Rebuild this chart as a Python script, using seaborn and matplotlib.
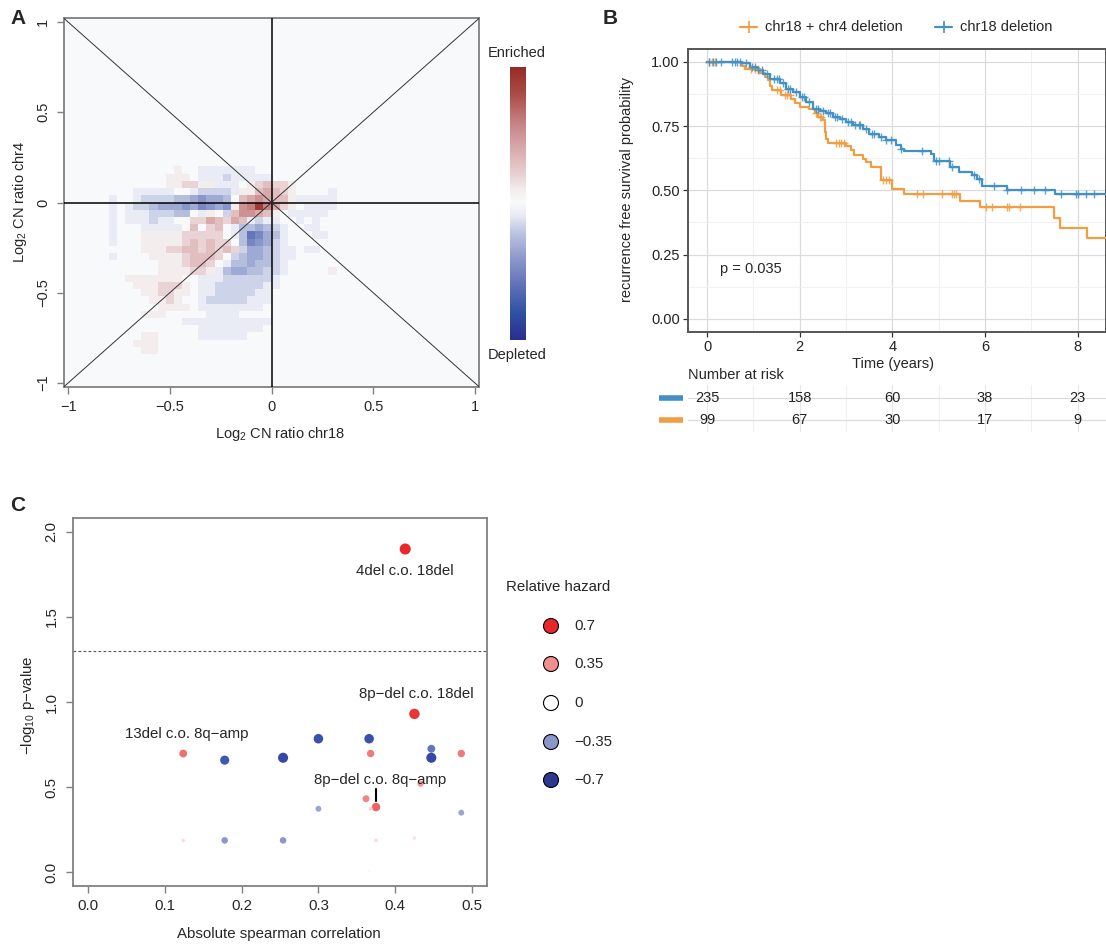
import numpy as np
import matplotlib
matplotlib.use('Agg')
import matplotlib.pyplot as plt
from matplotlib.colors import LinearSegmentedColormap, TwoSlopeNorm
import seaborn as sns

sns.set_style('white')
plt.rcParams['font.family'] = ['Liberation Sans', 'DejaVu Sans']
plt.rcParams['mathtext.fontset'] = 'custom'
plt.rcParams['mathtext.rm'] = 'Liberation Sans'
plt.rcParams['mathtext.it'] = 'Liberation Sans'

#%% data
# A: enrichment of chr18 / chr4 log2 CN ratios, 0.04 bins, levels in tenths of max
cn_chr18_edges = np.round(-0.88 + 0.04 * np.arange(33), 2)
cn_chr4_edges = np.round(0.20 - 0.04 * np.arange(27), 2)
enrichment = [
    [0,0,0,0,0,0,0,0,0,0,1,0,0,-1,-1,-1,-1,-1,-1,-1,0,0,0,0,0,0,0,0,0,0,0,0],
    [0,0,0,0,0,0,0,0,0,1,1,1,0,-1,-1,-1,-2,-1,-1,-1,-1,-1,0,0,0,0,0,0,0,0,0,0],
    [0,0,0,0,0,0,0,0,0,1,1,2,2,1,1,-1,-1,-1,0,1,2,3,2,2,1,0,0,0,0,0,0,0],
    [0,0,0,0,0,-1,-1,-1,-1,-1,0,0,-1,-2,-2,-2,-2,-1,1,1,3,4,3,2,1,0,0,0,0,-1,0,0],
    [0,0,-1,0,0,-1,-2,-2,-2,-2,-3,-3,-4,-5,-4,-4,-3,0,3,4,5,4,3,3,1,-1,-1,-1,-1,-1,0,0],
    [0,0,-1,0,-1,-2,-2,-3,-4,-4,-4,-5,-4,-6,-5,-4,-5,1,5,6,9,6,4,2,1,0,-1,-1,-1,-1,0,0],
    [0,0,-1,0,-1,-1,-1,-2,-2,-2,-3,-3,0,-1,1,0,-2,3,5,5,4,3,1,0,-1,-1,-1,-1,-1,0,0,0],
    [0,0,-1,0,-1,-1,-1,-2,-1,-1,0,0,2,2,4,3,2,4,3,-1,-2,-1,-1,0,0,-1,0,-1,0,0,0,0],
    [0,0,-1,0,0,0,-1,-1,-1,-1,-1,0,3,0,2,3,0,-1,-3,-3,-4,-3,-2,-1,0,0,-1,-1,0,0,0,0],
    [0,0,-1,0,0,0,1,1,1,1,1,2,2,2,2,2,0,-1,-3,-7,-6,-4,-3,-1,0,0,0,-1,-1,0,0,0],
    [0,0,-1,0,0,0,1,1,1,1,1,2,3,2,3,2,2,0,-3,-6,-5,-4,-2,-1,0,0,0,0,0,0,0,0],
    [0,0,0,0,0,0,1,1,1,2,2,3,3,2,3,2,3,2,-2,-4,-4,-3,-2,-1,-1,0,-1,-1,0,0,0,0],
    [0,0,-1,0,0,0,0,1,1,1,1,2,3,3,3,2,0,-2,-3,-4,-4,-3,-2,-1,-1,0,0,0,0,0,0,0],
    [0,0,0,0,0,0,0,0,1,1,1,2,3,3,2,0,-1,-3,-3,-4,-3,-3,-2,-1,0,0,0,0,0,0,0,0],
    [0,0,0,0,0,0,0,0,1,1,1,1,2,2,1,-1,-3,-4,-4,-3,-3,-2,-2,-1,0,0,0,0,0,1,0,0],
    [0,0,0,0,1,1,1,1,1,1,1,0,0,-1,-1,-1,-2,-2,-2,-2,-2,-2,-1,0,0,0,0,0,0,0,0,0],
    [0,0,0,0,0,1,1,1,2,2,2,1,0,-1,-1,-2,-2,-2,-2,-2,-2,-1,-1,0,0,0,0,0,0,0,0,0],
    [0,0,0,0,0,0,1,1,2,2,1,1,0,-1,-1,-2,-2,-2,-2,-2,-1,-1,0,0,0,0,0,0,0,0,0,0],
    [0,0,0,0,0,0,0,1,1,2,1,0,0,-1,-2,-2,-2,-2,-2,-1,-1,-1,0,0,0,0,0,0,0,0,0,0],
    [0,0,0,0,0,0,0,0,1,1,1,1,0,-1,-1,-1,-1,-1,-1,-1,-1,0,0,0,0,0,0,0,0,0,0,0],
    [0,0,0,0,0,0,1,1,1,0,0,0,0,0,-1,-1,-1,-1,0,0,0,0,0,0,0,0,0,0,0,0,0,0],
    [0,0,0,0,0,0,0,0,0,0,0,-1,-1,-1,-1,-1,-1,-1,-1,-1,-1,-1,0,0,0,0,0,0,0,0,0,0],
    [0,0,0,0,0,0,0,0,0,0,0,0,0,-1,-1,-1,-1,-1,-1,-1,-1,0,0,0,0,0,0,0,0,0,0,0],
    [0,0,0,0,0,0,1,1,0,0,0,0,0,-1,-1,-1,-1,-1,-1,0,0,0,0,0,0,0,0,0,0,0,0,0],
    [0,0,0,0,0,1,1,1,0,0,0,0,0,0,0,0,0,0,0,0,0,0,0,0,0,0,0,0,0,0,0,0],
    [0,0,0,0,0,0,1,1,0,0,0,0,0,0,0,0,0,0,0,0,0,0,0,0,0,0,0,0,0,0,0,0],
]

# B: Kaplan-Meier steps (time in years, survival after step), censor times, risk table
del18_t = [0, 0.75, 0.93, 1.07, 1.21, 1.36, 1.57, 1.71, 1.86, 2.0, 2.14, 2.29, 2.43, 2.57,
           2.71, 2.86, 3.0, 3.14, 3.36, 3.5, 3.71, 3.86, 4.07, 4.18, 4.25, 4.83, 4.9, 5.25,
           5.43, 5.72, 5.83, 5.94, 6.48, 7.52, 8.7]
del18_s = [1.0, 0.994, 0.98, 0.97, 0.952, 0.935, 0.916, 0.896, 0.883, 0.864, 0.844, 0.818,
           0.81, 0.80, 0.786, 0.779, 0.766, 0.753, 0.74, 0.721, 0.708, 0.695, 0.675, 0.66,
           0.653, 0.64, 0.616, 0.59, 0.573, 0.56, 0.543, 0.518, 0.501, 0.484, 0.484]
del18_cens = [0.05, 0.12, 0.2, 0.3, 0.55, 0.6, 0.65, 0.72, 0.85, 0.97, 1.03, 1.1, 1.18, 1.3,
              1.45, 1.5, 1.55, 1.65, 1.75, 1.8, 1.93, 2.05, 2.1, 2.2, 2.35, 2.4, 2.5, 2.62,
              2.66, 2.76, 2.8, 2.92, 3.05, 3.1, 3.2, 3.27, 3.3, 3.43, 3.55, 3.6, 3.75, 3.86,
              3.96, 4.18, 4.65, 4.94, 5.01, 5.22, 5.29, 5.76, 5.87, 6.19, 6.48, 6.77, 7.06,
              7.29, 7.63, 7.96, 8.01, 8.17, 8.35]
del18_4_t = [0, 0.75, 0.82, 1.14, 1.25, 1.32, 1.37, 1.41, 1.6, 1.82, 1.89, 2.0, 2.21, 2.32,
             2.39, 2.5, 2.54, 2.57, 2.61, 3.0, 3.1, 3.18, 3.36, 3.43, 3.54, 3.75, 4.0, 4.25,
             5.47, 5.9, 7.49, 7.61, 8.21, 8.7]
del18_4_s = [1.0, 0.984, 0.972, 0.955, 0.942, 0.929, 0.905, 0.89, 0.87, 0.855, 0.84, 0.825,
             0.815, 0.80, 0.786, 0.773, 0.727, 0.70, 0.685, 0.671, 0.656, 0.636, 0.623, 0.61,
             0.591, 0.54, 0.505, 0.487, 0.46, 0.434, 0.394, 0.355, 0.316, 0.316]
del18_4_cens = [0.04, 0.1, 0.18, 0.96, 1.04, 1.1, 1.5, 1.57, 1.68, 1.73, 1.79, 2.36, 2.43,
                2.46, 2.79, 2.84, 2.9, 2.96, 3.79, 3.86, 3.93, 4.54, 4.66, 5.08, 5.28, 5.33,
                5.38, 6.03, 6.16, 6.48, 6.52, 6.75]
risk_times = [0, 2, 4, 6, 8]
risk_del18 = [235, 158, 60, 38, 23]
risk_del18_4 = [99, 67, 30, 17, 9]

# C: co-occurrence screen
abs_corr = [0.413, 0.425, 0.124, 0.178, 0.254, 0.300, 0.366, 0.368, 0.447, 0.447, 0.486, 0.433,
            0.362, 0.375, 0.368, 0.300, 0.486, 0.124, 0.178, 0.254, 0.375, 0.425, 0.366]
neg_log_p = [1.90, 0.93, 0.697, 0.658, 0.672, 0.784, 0.784, 0.697, 0.725, 0.672, 0.697, 0.519,
             0.431, 0.382, 0.372, 0.372, 0.349, 0.186, 0.186, 0.186, 0.186, 0.200, 0.006]
rel_hazard = [0.70, 0.65, 0.45, -0.55, -0.62, -0.58, -0.58, 0.42, -0.45, -0.62, 0.42, 0.32,
              0.38, 0.50, 0.15, -0.30, -0.30, 0.12, -0.35, -0.35, 0.12, 0.10, 0.03]
pair_labels = ['4del c.o. 18del', '8p−del c.o. 18del', '13del c.o. 8q−amp', '8p−del c.o. 8q−amp']
label_xy = [(0.413, 1.77), (0.428, 1.05), (0.128, 0.81), (0.38, 0.543)]
hazard_legend = [0.7, 0.35, 0, -0.35, -0.7]

#%% figure
W, H = 1106, 946
fig = plt.figure(figsize=(W / 100, H / 100), dpi=100)

def frac(l, t, r, b):
    return [l / W, 1 - b / H, (r - l) / W, (b - t) / H]

cmap_a = LinearSegmentedColormap.from_list('enr', [
    (0.0, '#2B2D8F'), (0.1, '#2F53A3'), (0.2, '#6172B8'), (0.3, '#8E9ACC'), (0.4, '#C2C9E4'),
    (0.45, '#E6E9F3'), (0.5, '#F8FAFA'), (0.55, '#F4EDEE'), (0.6, '#EAD3D5'), (0.7, '#D8AAAC'),
    (0.8, '#C47F7F'), (0.9, '#AB4C47'), (1.0, '#962A25')])
grey = '#808080'
fs = 10.5
fs_c = 10.8

# ---- A
ax_a = fig.add_axes(frac(64, 18.4, 479, 386.6))
ax_a.set_facecolor(cmap_a(0.5))
ax_a.pcolormesh(cn_chr18_edges, cn_chr4_edges, np.array(enrichment), cmap=cmap_a,
                norm=TwoSlopeNorm(vcenter=0, vmin=-12, vmax=10), zorder=1)
ax_a.axhline(0, color='black', lw=1.1, zorder=3)
ax_a.axvline(0, color='black', lw=1.1, zorder=3)
ax_a.axline((0, 0), (1, 1), color='#333333', lw=0.7, zorder=3)
ax_a.axline((0, 0), (1, -1), color='#333333', lw=0.7, zorder=3)
ax_a.set_xlim(-1.02, 1.02)
ax_a.set_ylim(-1.02, 1.02)
ticks = [-1, -0.5, 0, 0.5, 1]
tlabs = ['−1', '−0.5', '0', '0.5', '1']
ax_a.set_xticks(ticks)
ax_a.set_xticklabels(tlabs)
ax_a.set_yticks(ticks)
ax_a.set_yticklabels(tlabs, rotation=90, va='center')
ax_a.tick_params(direction='out', length=5, width=1, color=grey, labelsize=fs, pad=5,
                 bottom=True, left=True)
for sp in ax_a.spines.values():
    sp.set_color(grey)
    sp.set_linewidth(1.3)

ax_cb = fig.add_axes(frac(510, 67, 526, 340))
ax_cb.imshow(np.linspace(1, 0, 256)[:, None], aspect='auto', cmap=cmap_a, vmin=0, vmax=1)
ax_cb.axis('off')

# ---- B
c_blue, c_orange = '#4390C5', '#F09D44'
ax_b = fig.add_axes(frac(688, 49, 1106, 331.7))
for t, s, cens, col in [(del18_4_t, del18_4_s, del18_4_cens, c_orange),
                        (del18_t, del18_s, del18_cens, c_blue)]:
    sns.lineplot(x=t, y=s, ax=ax_b, color=col, lw=1.6, estimator=None, sort=False,
                 drawstyle='steps-post', zorder=3)
    idx = np.searchsorted(t, cens, side='right') - 1
    ax_b.plot(cens, np.asarray(s)[idx], ls='none', marker='+', ms=6, mew=1.0,
              color=col, alpha=0.85, zorder=4)
ax_b.set_xlim(-0.41, 8.61)
ax_b.set_ylim(-0.05, 1.05)
ax_b.set_xticks([0, 2, 4, 6, 8])
ax_b.set_xticks([1, 3, 5, 7], minor=True)
ax_b.set_yticks([0, 0.25, 0.5, 0.75, 1])
ax_b.set_yticklabels(['0.00', '0.25', '0.50', '0.75', '1.00'])
ax_b.set_yticks([0.125, 0.375, 0.625, 0.875], minor=True)
ax_b.grid(which='major', color='#DCDCE0', lw=0.9)
ax_b.grid(which='minor', color='#EFEFF2', lw=0.6)
ax_b.set_axisbelow(True)
ax_b.tick_params(which='major', direction='out', length=3.5, width=0.9, color='#333333',
                 labelsize=fs, labelcolor='#222222', pad=2.5, bottom=True, left=True)
ax_b.tick_params(which='minor', length=0)
for sp in ax_b.spines.values():
    sp.set_color('#555555')
    sp.set_linewidth(1.4)
ax_b.text(0.27, 0.195, 'p = 0.035', fontsize=fs, va='center', ha='left')

ax_t = fig.add_axes(frac(688, 385, 1106, 432))
ax_t.set_xlim(-0.41, 8.61)
ax_t.set_ylim(0, 1)
for x in range(9):
    ax_t.axvline(x, color='#E6E6EA' if x % 2 == 0 else '#F0F0F3', lw=0.8, zorder=0)
for yrow, counts in [(0.72, risk_del18), (0.255, risk_del18_4)]:
    ax_t.axhline(yrow, color='#DCDCE0', lw=0.9, zorder=0)
    for x, n in zip(risk_times, counts):
        ax_t.text(x, yrow, str(n), ha='center', va='center', fontsize=fs, color='#222222')
ax_t.axis('off')

# ---- C
cmap_c = LinearSegmentedColormap.from_list('hz', [
    (0.0, '#2B3990'), (0.1, '#3A56B2'), (0.25, '#8A96CC'), (0.5, '#FFFFFF'),
    (0.75, '#F0908E'), (1.0, '#E8272B')])
ax_c = fig.add_axes(frac(72.6, 518.4, 487.4, 885.6))
diam = 2 + 13 * np.abs(rel_hazard)
sns.scatterplot(x=abs_corr, y=neg_log_p, hue=rel_hazard, palette=cmap_c, hue_norm=(-0.7, 0.7),
                s=(diam * 0.72) ** 2, linewidth=0, legend=False, ax=ax_c, zorder=3)
ax_c.axhline(-np.log10(0.05), color='#555555', lw=0.8, ls=(0, (2.5, 2)), zorder=1)
for lab, (x, y) in zip(pair_labels, label_xy):
    ax_c.text(x, y, lab, ha='center', va='center', fontsize=fs_c, zorder=4)
ax_c.plot([0.375, 0.375], [0.42, 0.49], color='black', lw=1.5, zorder=4)
ax_c.set_xlim(-0.02, 0.52)
ax_c.set_ylim(-0.08, 2.08)
ax_c.set_xticks([0, 0.1, 0.2, 0.3, 0.4, 0.5])
ax_c.set_xticklabels(['0.0', '0.1', '0.2', '0.3', '0.4', '0.5'])
ax_c.set_yticks([0, 0.5, 1, 1.5, 2])
ax_c.set_yticklabels(['0.0', '0.5', '1.0', '1.5', '2.0'], rotation=90, va='center')
ax_c.tick_params(direction='out', length=5, width=1, color=grey, labelsize=fs_c, pad=5,
                 bottom=True, left=True)
for sp in ax_c.spines.values():
    sp.set_color(grey)
    sp.set_linewidth(1.3)

#%% overlay in pixel coordinates for labels and legends
ov = fig.add_axes([0, 0, 1, 1])
ov.set_xlim(0, W)
ov.set_ylim(H, 0)
ov.axis('off')
for letter, (x, y) in zip('ABC', [(18, 18), (610, 18), (18, 505)]):
    ov.text(x, y, letter, fontsize=15, fontweight='bold', ha='center', va='center')
ov.text(517, 53, 'Enriched', fontsize=fs, ha='center', va='center')
ov.text(517, 355, 'Depleted', fontsize=fs, ha='center', va='center')
ov.text(280, 434, r'Log$_{2}$ CN ratio chr18', fontsize=fs, ha='center', va='center')
ov.text(20, 202, r'Log$_{2}$ CN ratio chr4', fontsize=fs, ha='center', va='center', rotation=90)

ov.text(893, 364, 'Time (years)', fontsize=fs, ha='center', va='center')
ov.text(627, 190, 'recurrence free survival probability', fontsize=fs, ha='center',
        va='center', rotation=90)
ov.text(688, 375, 'Number at risk', fontsize=fs, ha='left', va='center')
for y, col in [(398, c_blue), (420, c_orange)]:
    ov.plot([659, 683], [y, y], color=col, lw=4, solid_capstyle='butt')
for x0, col, lab in [(740, c_orange, 'chr18 + chr4 deletion'), (935, c_blue, 'chr18 deletion')]:
    ov.plot([x0, x0 + 17], [27, 27], color=col, lw=1.6)
    ov.plot([x0 + 8.5], [27], marker='+', ms=8, mew=1.2, color=col)
    ov.text(x0 + 25, 27, lab, fontsize=fs, ha='left', va='center')

ov.text(279, 934, 'Absolute spearman correlation', fontsize=fs_c, ha='center', va='center')
ov.text(28, 705, r'−log$_{10}$ p−value', fontsize=fs_c, ha='center', va='center', rotation=90)
ov.text(506, 587, 'Relative hazard', fontsize=fs_c, ha='left', va='center')
leg_y = [626, 664, 703, 742, 780]
ov.scatter([551] * len(hazard_legend), leg_y, c=hazard_legend, cmap=cmap_c, vmin=-0.7, vmax=0.7,
           s=(15 * 0.72) ** 2, edgecolors='black', linewidths=0.8)
for y, h in zip(leg_y, hazard_legend):
    ov.text(574, y, f'{h:g}'.replace('-', '−'), fontsize=fs_c, ha='left', va='center')

fig.savefig('out.png', dpi=100)
